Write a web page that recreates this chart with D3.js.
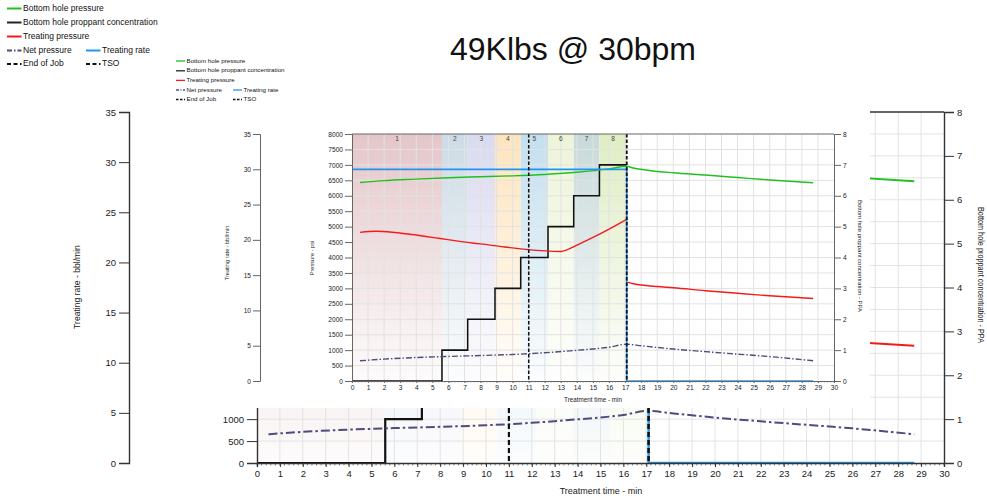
<!DOCTYPE html>
<html>
<head>
<meta charset="utf-8">
<script src="https://cdn.jsdelivr.net/npm/d3@7"></script>
<style>
  body { margin: 0; background: #fff; }
  svg { display: block; font-family: "Liberation Sans", Arial, sans-serif; }
</style>
</head>
<body>
<div id="chart"></div>
<script>
// ---- data ----
var chartTitle = "49Klbs @ 30bpm";

var stageNames = ["1", "2", "3", "4", "5", "6", "7", "8"];
var stageStart = [0, 5.6, 7.2, 8.9, 10.5, 12.2, 13.8, 15.4];
var stageEnd   = [5.6, 7.2, 8.9, 10.5, 12.2, 13.8, 15.4, 17.1];
var stagePPA   = [0, 1, 2, 3, 4, 5, 6, 7];

var bhpTime  = [0.5, 2, 4, 6, 8, 10, 12, 14, 16, 17.1, 17.5, 18.5, 20, 22, 24, 26, 28.7];
var bhpValue = [6430, 6490, 6540, 6585, 6615, 6645, 6690, 6760, 6870, 6955, 6900, 6820, 6745, 6670, 6590, 6510, 6420];

var tpTime  = [0.5, 1.5, 2.5, 3.5, 4.5, 5.5, 6.5, 7.5, 8.5, 9.5, 10.5, 11.5, 12.5, 13.0, 14, 15, 16, 17.1, 17.12, 17.15, 17.5, 18, 19, 20, 22, 24, 26, 28.7];
var tpValue = [4815, 4850, 4820, 4760, 4690, 4615, 4540, 4470, 4410, 4340, 4280, 4230, 4200, 4195, 4400, 4650, 4920, 5240, null, 3200, 3150, 3110, 3060, 3020, 2925, 2840, 2760, 2670];

var netTime  = [0.5, 2, 4, 6, 8, 10, 12, 14, 16, 17.1, 18, 20, 22, 24, 26, 28.7];
var netValue = [655, 710, 760, 795, 825, 860, 915, 995, 1095, 1190, 1140, 1035, 950, 870, 790, 655];

var rateTime  = [0, 17.1, 17.1, 28.7];
var rateValue = [30, 30, 0, 0];

var tsoTime = 11.0;
var eojTime = 17.1;

var timeTicks     = d3.range(0, 31, 1);
var pressureTicks = d3.range(0, 8001, 500);
var rateTicks     = d3.range(0, 36, 5);
var ppaTicks      = d3.range(0, 9, 1);

var legendLabels = ["Bottom hole pressure", "Bottom hole proppant concentration", "Treating pressure",
                    "Net pressure", "Treating rate", "End of Job", "TSO"];

// ---- styles ----
var stageFill = ["#e4c6c9", "#ccdbe6", "#dadaf0", "#fde4bd", "#c3dfee", "#edf4d9", "#c7d9da", "#dfedc3"];
var cGreen = "#20c020", cRed = "#f51a1a", cBlue = "#2196f0", cNet = "#4f4b7c", cBlack = "#111";

var W = 987, H = 500;
var svg = d3.select("#chart").append("svg").attr("width", W).attr("height", H);
svg.append("rect").attr("width", W).attr("height", H).attr("fill", "#fff");

var defs = svg.append("defs");
stageFill.forEach(function(c, i) {
  var gr = defs.append("linearGradient").attr("id", "stg" + i)
    .attr("x1", 0).attr("y1", 0).attr("x2", 0).attr("y2", 1);
  gr.append("stop").attr("offset", "0%").attr("stop-color", c).attr("stop-opacity", 1);
  gr.append("stop").attr("offset", "100%").attr("stop-color", c).attr("stop-opacity", 0.06);
});

function styleAxis(ax, o, color) {
  ax.attr("font-size", o.font).attr("font-family", null);
  ax.selectAll("text").attr("fill", "#222");
  ax.selectAll("line").attr("stroke", color);
  ax.select(".domain").attr("stroke", color).attr("stroke-width", o.axisW);
}

function drawPanel(o) {
  var x  = d3.scaleLinear().domain([0, 30]).range([o.left, o.right]);
  var yP = d3.scaleLinear().domain([0, 8000]).range([o.bottom, o.top]);
  var yC = d3.scaleLinear().domain([0, 8]).range([o.bottom, o.top]);
  var yR = d3.scaleLinear().domain([0, 35]).range([o.bottom, o.top]);

  var g = svg.append("g");
  defs.append("clipPath").attr("id", o.id + "clip").append("rect")
    .attr("x", o.left).attr("y", o.top).attr("width", o.right - o.left).attr("height", o.bottom - o.top);

  // stage bands
  g.append("g").selectAll("rect").data(stageNames).join("rect")
    .attr("x", function(d, i) { return x(stageStart[i]); })
    .attr("width", function(d, i) { return x(stageEnd[i]) - x(stageStart[i]); })
    .attr("y", o.top).attr("height", o.bottom - o.top)
    .attr("fill", function(d, i) { return "url(#stg" + i + ")"; });

  // grid
  g.append("g").selectAll("line").data(timeTicks.slice(1, -1)).join("line")
    .attr("x1", function(d) { return x(d); }).attr("x2", function(d) { return x(d); })
    .attr("y1", o.top).attr("y2", o.bottom).attr("stroke", o.grid).attr("stroke-width", 1);
  g.append("g").selectAll("line").data(pressureTicks.slice(1, -1)).join("line")
    .attr("y1", function(d) { return yP(d); }).attr("y2", function(d) { return yP(d); })
    .attr("x1", o.left).attr("x2", o.right).attr("stroke", o.grid).attr("stroke-width", 1);

  if (o.stageLabels) {
    g.append("g").selectAll("text").data(stageNames).join("text")
      .attr("x", function(d, i) { return (x(stageStart[i]) + x(stageEnd[i])) / 2; })
      .attr("y", o.top + 7).attr("text-anchor", "middle")
      .attr("font-size", o.font).attr("fill", "#444").text(function(d) { return d; });
  }

  var lines = g.append("g").attr("clip-path", "url(#" + o.id + "clip)");

  // proppant concentration (step)
  var ppaPts = stageStart.map(function(t, i) { return [t, stagePPA[i]]; });
  ppaPts.push([stageEnd[stageEnd.length - 1], stagePPA[stagePPA.length - 1]]);
  lines.append("path").datum(ppaPts)
    .attr("d", d3.line().x(function(d) { return x(d[0]); }).y(function(d) { return yC(d[1]); }).curve(d3.curveStepAfter))
    .attr("fill", "none").attr("stroke", cBlack).attr("stroke-width", o.lw * 1.1);

  function series(ts, vs, yS) {
    return d3.line().defined(function(d, i) { return vs[i] !== null; })
      .x(function(d, i) { return x(ts[i]); }).y(function(d, i) { return yS(vs[i]); })
      .curve(d3.curveMonotoneX)(ts);
  }

  lines.append("path").attr("d", series(netTime, netValue, yP))
    .attr("fill", "none").attr("stroke", cNet).attr("stroke-width", o.lw).attr("stroke-dasharray", o.dashNet);
  lines.append("path").attr("d", series(bhpTime, bhpValue, yP))
    .attr("fill", "none").attr("stroke", cGreen).attr("stroke-width", o.lw);
  lines.append("path").attr("d", series(tpTime, tpValue, yP))
    .attr("fill", "none").attr("stroke", cRed).attr("stroke-width", o.lw);
  lines.append("path")
    .attr("d", d3.line().x(function(d) { return x(d); }).y(function(d, i) { return yR(rateValue[i]); })(rateTime))
    .attr("fill", "none").attr("stroke", cBlue).attr("stroke-width", o.lw * 1.2);

  // TSO and end of job
  [tsoTime, eojTime].forEach(function(t, i) {
    lines.append("line").attr("x1", x(t)).attr("x2", x(t)).attr("y1", o.top).attr("y2", o.bottom)
      .attr("stroke", cBlack).attr("stroke-width", o.lw * (i ? 1.3 : 1.1)).attr("stroke-dasharray", o.dashEv);
  });

  // frame top
  g.append("line").attr("x1", o.left).attr("x2", o.right).attr("y1", o.top).attr("y2", o.top)
    .attr("stroke", o.axisColor).attr("stroke-width", o.axisW);

  // minor ticks on time axis
  g.append("g").selectAll("line").data(d3.range(0, 30.01, 0.2)).join("line")
    .attr("x1", function(d) { return x(d); }).attr("x2", function(d) { return x(d); })
    .attr("y1", o.bottom).attr("y2", o.bottom + o.minor).attr("stroke", o.axisColor).attr("stroke-width", 0.6);

  // axes
  var axB = g.append("g").attr("transform", "translate(0," + o.bottom + ")")
    .call(d3.axisBottom(x).tickValues(timeTicks).tickSizeOuter(0).tickSize(o.tickX).tickPadding(o.padX).tickFormat(d3.format("d")));
  styleAxis(axB, o, o.axisColor);
  var axL = g.append("g").attr("transform", "translate(" + o.left + ",0)")
    .call(d3.axisLeft(yP).tickValues(pressureTicks).tickSizeOuter(0).tickSize(o.tickY).tickPadding(o.pad).tickFormat(d3.format("d")));
  styleAxis(axL, o, o.axisColor);
  var axR = g.append("g").attr("transform", "translate(" + o.right + ",0)")
    .call(d3.axisRight(yC).tickValues(ppaTicks).tickSizeOuter(0).tickSize(o.tickY).tickPadding(o.pad).tickFormat(d3.format("d")));
  styleAxis(axR, o, o.axisColor);
  var axRate = g.append("g").attr("transform", "translate(" + o.rateX + ",0)")
    .call(d3.axisLeft(yR).tickValues(rateTicks).tickSizeOuter(0).tickSize(o.tickY).tickPadding(o.pad).tickFormat(d3.format("d")));
  styleAxis(axRate, o, o.axisColor);

  // axis titles
  function title(t, rot, txt) {
    var el = g.append("text").attr("transform", "translate(" + t.x + "," + t.y + ") rotate(" + rot + ")")
      .attr("text-anchor", "middle").attr("dominant-baseline", "middle")
      .attr("font-size", t.size).attr("fill", "#222").text(txt);
    if (t.len) el.attr("textLength", t.len).attr("lengthAdjust", "spacingAndGlyphs");
  }
  title(o.rateTitle, -90, "Treating rate - bbl/min");
  title(o.pressTitle, -90, "Pressure - psi");
  title(o.ppaTitle, 90, "Bottom hole proppant concentration - PPA");
  title(o.timeTitle, 0, "Treatment time - min");
}

function drawLegend(o) {
  var g = svg.append("g").attr("font-size", o.font).attr("fill", "#111");
  var items = [
    {row: 0, col: 0, c: cGreen, dash: null},
    {row: 1, col: 0, c: "#222", dash: null},
    {row: 2, col: 0, c: cRed, dash: null},
    {row: 3, col: 0, c: cNet, dash: o.dashNet},
    {row: 3, col: 1, c: cBlue, dash: null},
    {row: 4, col: 0, c: cBlack, dash: o.dashEv},
    {row: 4, col: 1, c: cBlack, dash: o.dashEv}
  ];
  items.forEach(function(it, i) {
    var lx = o.cols[it.col], y = o.rows[it.row];
    g.append("line").attr("x1", lx).attr("x2", lx + o.len).attr("y1", y).attr("y2", y)
      .attr("stroke", it.c).attr("stroke-width", o.lw).attr("stroke-dasharray", it.dash);
    g.append("text").attr("x", lx + o.len + o.gap).attr("y", y).attr("dominant-baseline", "middle")
      .text(legendLabels[i]);
  });
}

// ---- large chart behind ----
drawPanel({
  id: "outer", left: 257, right: 944, top: 112, bottom: 463, rateX: 129,
  font: 9.5, lw: 2, axisW: 1.4, grid: "#e3e3e3", axisColor: "#333",
  tickX: 4, padX: 3, tickY: 10, pad: 3, minor: 2.5,
  dashNet: "9,3,2.5,3", dashEv: "5,3", stageLabels: false,
  rateTitle: {x: 78, y: 287, size: 8.6},
  pressTitle: {x: 200, y: 287, size: 8.6},
  ppaTitle: {x: 980, y: 275, size: 8.4, len: 136},
  timeTitle: {x: 601, y: 492, size: 9}
});
drawLegend({font: 8.5, lw: 2, len: 14.5, gap: 1.5, cols: [7, 86],
  rows: [8.5, 22.5, 36.5, 50.5, 64], dashNet: "5,2,1.5,2", dashEv: "4,2.5"});

// ---- pasted small chart ----
svg.append("rect").attr("x", 168).attr("y", 54).attr("width", 702).attr("height", 354).attr("fill", "#fff");

drawPanel({
  id: "inner", left: 352, right: 834, top: 134, bottom: 381, rateX: 260,
  font: 6.6, lw: 1.4, axisW: 1, grid: "#e2e2e2", axisColor: "#666",
  tickX: 2, padX: 2.5, tickY: 7, pad: 2, minor: 1.5,
  dashNet: "6,2,1.5,2", dashEv: "3.5,2", stageLabels: true,
  rateTitle: {x: 228, y: 253, size: 5.6},
  pressTitle: {x: 313, y: 258, size: 5.6},
  ppaTitle: {x: 860, y: 256, size: 6},
  timeTitle: {x: 593, y: 400, size: 6.3}
});
drawLegend({font: 6.2, lw: 1.3, len: 9, gap: 1.5, cols: [176, 233],
  rows: [61, 70.8, 80.4, 90, 99.5], dashNet: "3,1.5,1,1.5", dashEv: "2.5,1.5"});

svg.append("text").attr("x", 573).attr("y", 60).attr("text-anchor", "middle")
  .attr("font-size", 32).attr("fill", "#111").text(chartTitle);
</script>
</body>
</html>
